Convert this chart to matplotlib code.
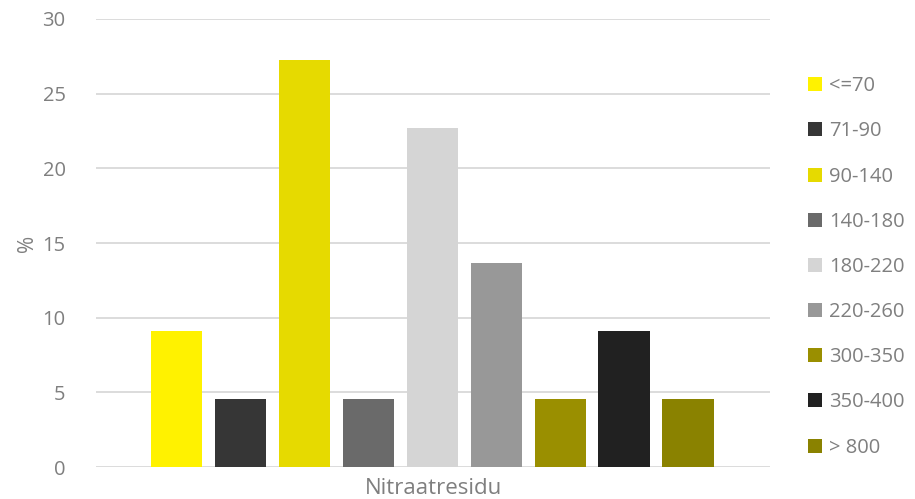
import matplotlib
matplotlib.use("Agg")
import matplotlib.pyplot as plt
from matplotlib.patches import Patch

# ==========================================
# Data
# ==========================================

classes = ["<=70", "71-90", "90-140", "140-180", "180-220",
           "220-260", "300-350", "350-400", "> 800"]
percent = [9.09, 4.55, 27.27, 4.55, 22.73, 13.64, 4.55, 9.09, 4.55]
colors = ["#FFF200", "#363636", "#E6DA00", "#6A6A6A", "#D5D5D5",
          "#989898", "#9A8F00", "#212121", "#8A8200"]

text_color = "#7F7F7F"
plt.rcParams["font.family"] = ["Open Sans", "DejaVu Sans"]

# ==========================================
# Plot
# ==========================================

fig = plt.figure(figsize=(9.15, 4.99), dpi=100)
ax = fig.add_axes([0.105, 0.064, 0.737, 0.898])

positions = list(range(len(classes)))
bars = ax.bar(positions, percent, width=0.8, color=colors, zorder=3)

ax.set_ylim(0, 30)
ax.set_yticks(range(0, 31, 5))
ax.set_xlim(-1.26, 9.29)
ax.set_xticks([])

ax.grid(axis="y", color="#D9D9D9", linewidth=1.3, zorder=0)
for side in ["top", "right", "left", "bottom"]:
    ax.spines[side].set_visible(False)

ax.tick_params(axis="y", length=0, pad=22, labelsize=14.5, labelcolor=text_color)

ax.set_ylabel("%", fontsize=15, color=text_color, labelpad=3)
ax.set_xlabel("Nitraatresidu", fontsize=16, color=text_color, labelpad=8)

handles = [Patch(facecolor=c, edgecolor="none") for c in colors]
fig.legend(
    handles, classes,
    loc="center left",
    bbox_to_anchor=(0.863, 0.465),
    frameon=False,
    fontsize=14.5,
    labelcolor=text_color,
    handlelength=0.7,
    handleheight=0.7,
    handletextpad=0.35,
    labelspacing=1.25,
)

fig.savefig("out.png", dpi=100)
